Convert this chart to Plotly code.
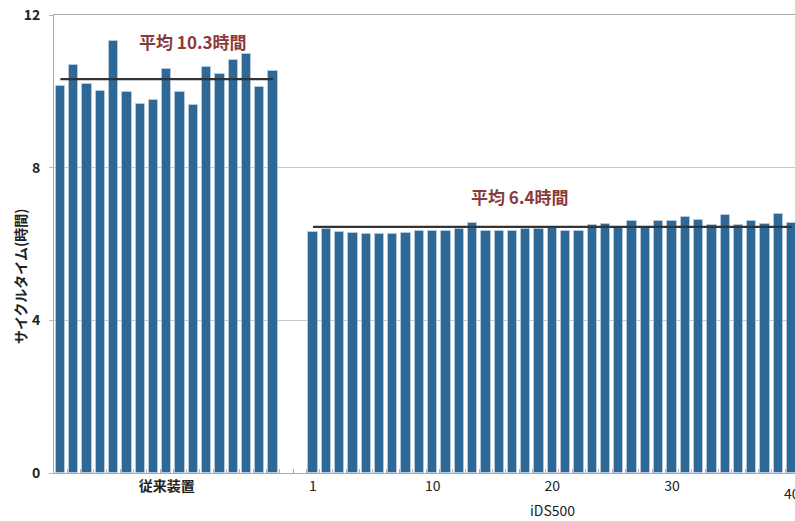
import numpy as np
import plotly.graph_objects as go

# ---- data ----
old_values = [10.14, 10.68, 10.18, 10.02, 11.33, 9.97, 9.67, 9.77, 10.58,
              9.97, 9.63, 10.63, 10.46, 10.82, 10.97, 10.12, 10.53]
new_values = [6.32, 6.39, 6.32, 6.29, 6.25, 6.26, 6.26, 6.30, 6.35, 6.35,
              6.35, 6.39, 6.54, 6.35, 6.35, 6.35, 6.39, 6.39, 6.44, 6.35,
              6.35, 6.49, 6.52, 6.44, 6.60, 6.44, 6.59, 6.60, 6.70, 6.64,
              6.49, 6.75, 6.51, 6.60, 6.53, 6.78, 6.56]
old_label = "従来装置"
new_label = "iDS500"
new_tick_labels = ["1", "10", "20", "30", "40"]
new_tick_index = [1, 10, 19, 28, 37]   # bar numbers where labels sit in the picture
avg_old_text = "平均 10.3時間"
avg_new_text = "平均 6.4時間"
y_ticks = [0, 4, 8, 12]
y_title = "サイクルタイム(時間)"

# ---- positions ----
gap = 2
x_old = list(range(1, len(old_values) + 1))
x_new = [len(old_values) + gap + i for i in range(1, len(new_values) + 1)]

BAR = "#2E6896"
FONT = "Noto Sans CJK JP"
TXT = "#222222"

fig = go.Figure()
bar_line = dict(color="rgba(190,210,228,0.7)", width=1)
fig.add_trace(go.Bar(x=x_old, y=old_values, width=0.7, marker=dict(color=BAR, line=bar_line)))
fig.add_trace(go.Bar(x=x_new, y=new_values, width=0.7, marker=dict(color=BAR, line=bar_line)))

m_old = float(np.mean(old_values))
m_new = float(np.mean(new_values))
fig.add_trace(go.Scatter(x=[x_old[0], x_old[-1]], y=[m_old, m_old], mode="lines",
                         line=dict(color="#333333", width=2.2)))
fig.add_trace(go.Scatter(x=[x_new[0], x_new[-1]], y=[m_new, m_new], mode="lines",
                         line=dict(color="#333333", width=2.2)))

fig.add_annotation(x=(x_old[0] + x_old[-1]) / 2 + 1.9, y=m_old, yshift=38, text="<b>" + avg_old_text + "</b>",
                   showarrow=False, font=dict(family=FONT, size=17, color="#8B3A3A"))
fig.add_annotation(x=x_new[0] + 15.5, y=m_new, yshift=30, text="<b>" + avg_new_text + "</b>",
                   showarrow=False, font=dict(family=FONT, size=17, color="#8B3A3A"))
fig.add_annotation(x=x_new[new_tick_index[2] - 1], y=0, yref="y", yshift=-37, text=new_label,
                   showarrow=False, font=dict(family=FONT, size=14, color=TXT))
# last numeric label sits at the clipped right edge, so draw it as an annotation
fig.add_annotation(x=x_new[new_tick_index[-1] - 1], y=0, yref="y", yshift=-20, text=new_tick_labels[-1],
                   showarrow=False, font=dict(family=FONT, size=14, color=TXT))
# y-axis title
fig.add_annotation(xref="paper", x=-0.062, yref="paper", y=0.43, text="<b>" + y_title + "</b>",
                   textangle=-90, showarrow=False, font=dict(family=FONT, size=14, color=TXT))

tickvals = [(x_old[0] + x_old[-1]) / 2] + [x_new[i - 1] for i in new_tick_index[:-1]]
ticktext = ["<b>" + old_label + "</b>"] + new_tick_labels[:-1]

fig.update_layout(
    width=795, height=521,
    margin=dict(l=54, r=0, t=15, b=48),
    plot_bgcolor="white", paper_bgcolor="white",
    showlegend=False, bargap=0,
    font=dict(family=FONT, color=TXT),
    xaxis=dict(range=[0.52, 56.25], tickvals=tickvals, ticktext=ticktext, ticks="",
               tickfont=dict(family=FONT, size=14, color=TXT),
               showline=True, linecolor="#aaaaaa", linewidth=1, mirror=True,
               showgrid=False, zeroline=False,
               minor=dict(tick0=0.5, dtick=1, ticks="inside", ticklen=4, tickcolor="#aaaaaa", showgrid=False)),
    yaxis=dict(range=[0, 12], tickvals=y_ticks, ticks="outside", ticklen=4, tickcolor="#bbbbbb",
               ticklabelstandoff=6,
               tickfont=dict(family=FONT, size=14, color=TXT, weight="bold"),
               showgrid=True, gridcolor="#c8c8c8", gridwidth=1,
               showline=True, linecolor="#aaaaaa", linewidth=1, zeroline=False),
)

fig.write_html("out.html")
